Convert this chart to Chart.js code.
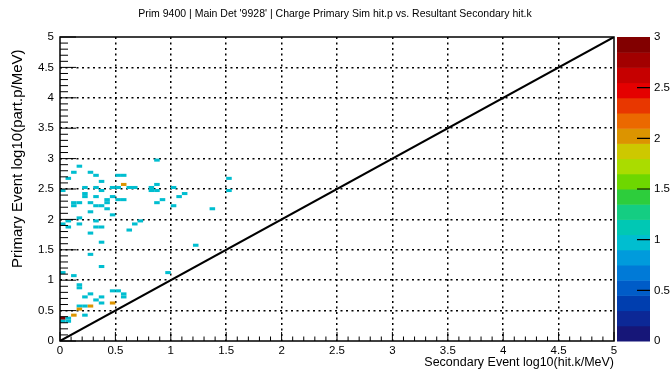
<!DOCTYPE html>
<html>
<head>
<meta charset="utf-8">
<script src="https://cdn.jsdelivr.net/npm/chart.js@4"></script>
<style>
  html, body { margin: 0; padding: 0; background: #fff; }
  #wrap { width: 670px; height: 370px; }
</style>
</head>
<body>
<div id="wrap"><canvas id="hist2d" width="670" height="370"></canvas></div>
<script>
// filled bins: lower edge in hit.k, lower edge in part.p, entries
const hitK = [
  0.85, 0.15, 0.10, 0.25, 0.30, 0.50, 0.55, 0.05, 0.35, 0.55, 0.85, 1.50,
  0.20, 0.30, 0.45, 0.50, 0.60, 0.65, 0.80, 1.00, 0.00, 0.35, 0.80, 0.85, 1.50,
  0.20, 1.10, 0.20, 0.30, 0.45, 1.05, 0.40, 0.50, 0.55, 0.90,
  0.10, 0.15, 0.25, 0.40, 0.85, 0.10, 0.30, 0.35, 1.00, 0.40, 1.35,
  0.25, 0.45, 0.15, 0.05, 0.30, 0.70, 0.00, 0.15, 0.65, 0.05, 0.30, 0.35,
  0.60, 0.25, 0.35, 1.20, 0.25, 0.35, 0.00, 0.95, 0.10,
  0.15, 0.15, 0.45, 0.50, 0.25, 0.55, 0.20, 0.35, 0.55, 0.30, 0.35, 0.45,
  0.15, 0.20, 0.25, 0.15, 0.10, 0.20, 0.00, 0.05, 0.00, 0.05
];
const partP = [
  2.95, 2.85, 2.75, 2.75, 2.70, 2.70, 2.70, 2.65, 2.60, 2.55, 2.55, 2.65,
  2.50, 2.50, 2.50, 2.50, 2.50, 2.50, 2.50, 2.50, 2.45, 2.45, 2.45, 2.45, 2.45,
  2.40, 2.40, 2.35, 2.35, 2.35, 2.35, 2.30, 2.30, 2.30, 2.30,
  2.25, 2.25, 2.25, 2.25, 2.25, 2.20, 2.20, 2.20, 2.20, 2.15, 2.15,
  2.10, 2.05, 2.00, 1.95, 1.95, 1.95, 1.90, 1.90, 1.90, 1.85, 1.85, 1.85,
  1.80, 1.75, 1.60, 1.55, 1.40, 1.20, 1.10, 1.10, 1.05,
  0.90, 0.85, 0.80, 0.80, 0.75, 0.75, 0.70, 0.70, 0.70, 0.65, 0.60, 0.60,
  0.55, 0.55, 0.55, 0.50, 0.40, 0.40, 0.35, 0.35, 0.30, 0.30
];
const entries = [
  1, 1, 1, 1, 1, 1, 1, 1, 1, 2, 1, 1,
  1, 1, 1, 1, 1, 1, 1, 1, 1, 1, 1, 1, 1,
  1, 1, 1, 1, 1, 1, 1, 1, 1, 1,
  1, 1, 1, 1, 1, 1, 1, 1, 1, 1, 1,
  1, 1, 1, 1, 1, 1, 1, 1, 1, 1, 1, 1,
  1, 1, 1, 1, 1, 1, 1, 1, 1,
  1, 1, 1, 1, 1, 1, 1, 1, 1, 1, 1, 2,
  1, 1, 2, 2, 2, 1, 3, 1, 1, 1
];
const binSize = 0.05;
const axisMax = 5;
const zMax = 3;

const titleText = "Prim 9400 | Main Det '9928' | Charge Primary Sim hit.p vs. Resultant Secondary hit.k";

// 20 colour levels, lowest first
const palette = [
  'rgb(22,22,120)', 'rgb(12,40,150)', 'rgb(0,62,175)', 'rgb(0,92,200)', 'rgb(0,122,215)',
  'rgb(0,155,220)', 'rgb(0,190,208)', 'rgb(0,200,180)', 'rgb(20,205,130)', 'rgb(45,205,60)',
  'rgb(110,215,0)', 'rgb(170,220,0)', 'rgb(205,200,0)', 'rgb(220,148,0)', 'rgb(235,105,0)',
  'rgb(232,55,0)', 'rgb(228,0,0)', 'rgb(198,0,0)', 'rgb(162,0,0)', 'rgb(130,0,0)'
];

const sans = "'Liberation Sans', Arial, sans-serif";
const isMajor = v => Math.abs(v * 2 - Math.round(v * 2)) < 1e-6;
const fmt = v => String(Math.round(v * 10) / 10);

function levelColor(z) {
  const i = Math.min(palette.length - 1, Math.floor(z / zMax * palette.length));
  return palette[i];
}

const gridColor = c => {
  const v = c.tick ? c.tick.value : 0;
  return isMajor(v) && v > 0.01 && v < axisMax - 0.01 ? '#000' : 'rgba(0,0,0,0)';
};

// keep tick padding from pushing the plot area in
function noEdgePadding(s) {
  s.paddingTop = 0;
  s.paddingBottom = 0;
}

const hist2d = {
  id: 'hist2d',
  beforeDatasetsDraw(chart) {
    const { ctx, scales: { x, y } } = chart;
    ctx.save();
    hitK.forEach((k, i) => {
      const x0 = x.getPixelForValue(k);
      const x1 = x.getPixelForValue(k + binSize);
      const y0 = y.getPixelForValue(partP[i] + binSize);
      const y1 = y.getPixelForValue(partP[i]);
      ctx.fillStyle = levelColor(entries[i]);
      ctx.fillRect(x0, y0, x1 - x0, y1 - y0);
    });
    ctx.restore();
  },
  afterDatasetsDraw(chart) {
    const { ctx, chartArea: a, scales: { x, y } } = chart;
    ctx.save();
    ctx.strokeStyle = '#000';
    ctx.lineWidth = 1;
    ctx.beginPath();
    x.ticks.forEach(t => {
      const px = x.getPixelForValue(t.value);
      ctx.moveTo(px, a.bottom);
      ctx.lineTo(px, a.bottom - (isMajor(t.value) ? 9 : 4.5));
    });
    y.ticks.forEach(t => {
      const py = y.getPixelForValue(t.value);
      ctx.moveTo(a.left, py);
      ctx.lineTo(a.left + (isMajor(t.value) ? 16 : 8), py);
    });
    ctx.stroke();
    ctx.lineWidth = 1.5;
    ctx.strokeRect(a.left, a.top, a.width, a.height);
    ctx.restore();
  },
  afterDraw(chart) {
    // colour scale next to the frame
    const { ctx, chartArea: a, scales: { z } } = chart;
    const left = a.right + 3;
    const right = a.right + 36;
    const step = zMax / palette.length;
    ctx.save();
    palette.forEach((col, i) => {
      const top = z.getPixelForValue((i + 1) * step);
      const bottom = z.getPixelForValue(i * step);
      ctx.fillStyle = col;
      ctx.fillRect(left, top, right - left, bottom - top + 0.5);
    });
    ctx.strokeStyle = '#000';
    ctx.lineWidth = 1.2;
    ctx.beginPath();
    z.ticks.forEach(t => {
      if (t.value <= 0 || t.value >= zMax) return;
      const py = z.getPixelForValue(t.value);
      ctx.moveTo(right - 13, py);
      ctx.lineTo(right, py);
    });
    ctx.stroke();
    ctx.restore();
  }
};

new Chart(document.getElementById('hist2d'), {
  type: 'scatter',
  data: {
    datasets: [{
      data: [{ x: 0, y: 0 }, { x: axisMax, y: axisMax }],
      showLine: true,
      borderColor: '#000',
      borderWidth: 2,
      pointRadius: 0
    }]
  },
  options: {
    responsive: false,
    animation: false,
    layout: { padding: 0 },
    plugins: {
      legend: { display: false },
      tooltip: { enabled: false },
      title: {
        display: true,
        text: titleText,
        color: '#000',
        font: { family: sans, size: 10.5, weight: 'normal', lineHeight: 1.2 },
        padding: { top: 8, bottom: 16.4 }
      }
    },
    scales: {
      x: {
        type: 'linear',
        min: 0,
        max: axisMax,
        ticks: {
          stepSize: 0.1,
          autoSkip: false,
          maxRotation: 0,
          padding: 3,
          color: '#000',
          font: { family: sans, size: 11.5 },
          callback: v => isMajor(v) ? fmt(v) : ''
        },
        grid: { color: gridColor, lineWidth: 1.5, drawTicks: false },
        border: { display: false, dash: [2, 3.5] },
        title: {
          display: true,
          text: 'Secondary Event log10(hit.k/MeV)',
          align: 'end',
          color: '#000',
          font: { family: sans, size: 12.5, lineHeight: 1 },
          padding: { top: 0, bottom: 1 }
        },
        afterFit(s) { s.height = 29; }
      },
      y: {
        type: 'linear',
        min: 0,
        max: axisMax,
        ticks: {
          stepSize: 0.1,
          autoSkip: false,
          padding: 6,
          color: '#000',
          font: { family: sans, size: 11.5 },
          callback: v => isMajor(v) ? fmt(v) : ''
        },
        grid: { color: gridColor, lineWidth: 1.5, drawTicks: false },
        border: { display: false, dash: [2, 3.5] },
        title: {
          display: true,
          text: 'Primary Event log10(part.p/MeV)   ',
          align: 'end',
          color: '#000',
          font: { family: sans, size: 15, lineHeight: 1 },
          padding: { top: 10.5, bottom: 0 }
        },
        afterFit(s) { s.width = 60; noEdgePadding(s); }
      },
      z: {
        type: 'linear',
        position: 'right',
        min: 0,
        max: zMax,
        ticks: {
          stepSize: 0.5,
          padding: 40,
          color: '#000',
          font: { family: sans, size: 11.5 },
          callback: v => fmt(v)
        },
        grid: { display: false, drawTicks: false },
        border: { display: false },
        afterFit(s) { s.width = 56; noEdgePadding(s); }
      }
    }
  },
  plugins: [hist2d]
});
</script>
</body>
</html>
